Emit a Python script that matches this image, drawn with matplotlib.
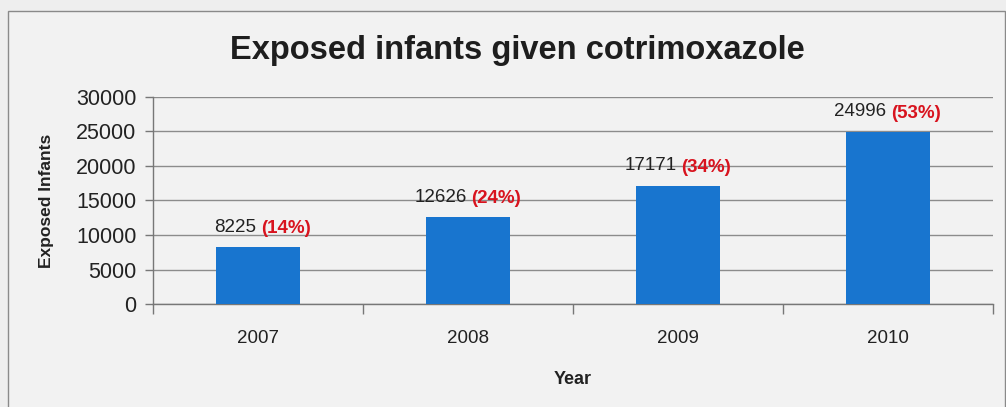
import matplotlib
matplotlib.use("Agg")
import matplotlib.pyplot as plt
from matplotlib.patches import Rectangle

plt.rcParams['font.family'] = ['Liberation Sans', 'DejaVu Sans']

# Data
years = ["2007", "2008", "2009", "2010"]
infants = [8225, 12626, 17171, 24996]
percent_labels = ["(14%)", "(24%)", "(34%)", "(53%)"]
y_ticks = [0, 5000, 10000, 15000, 20000, 25000, 30000]

W, H = 1006, 407
fig = plt.figure(figsize=(W / 100, H / 100), dpi=100, facecolor="#eeeeee")

# Outer chart frame, kept behind the plot
frame = Rectangle((8 / W, -0.05), (1005 - 8) / W, 1.05 - 11 / H,
                  transform=fig.transFigure, facecolor="#f2f2f2",
                  edgecolor="#8a8a8a", linewidth=1.0, zorder=-10)
fig.patches.append(frame)

ax = fig.add_axes([153 / W, 1 - 304 / H, (993 - 153) / W, (304 - 97) / H])
ax.set_facecolor("none")
ax.set_zorder(1)

x = list(range(len(years)))
ax.bar(x, infants, width=0.4, color="#1875cf", zorder=3)

ax.set_xlim(-0.5, len(years) - 0.5)
ax.set_ylim(0, 30000)
ax.set_yticks(y_ticks)
ax.set_yticklabels([str(v) for v in y_ticks], fontsize=15.5, color="#222222")
ax.yaxis.grid(True, color="#8c8c8c", linewidth=1.0, zorder=0)
ax.set_axisbelow(True)

# Category ticks sit on the boundaries between years
ax.set_xticks([i - 0.5 for i in range(len(years) + 1)])
ax.set_xticklabels([])
ax.set_xticks(x, minor=True)
ax.set_xticklabels(years, minor=True, fontsize=13.5, color="#222222")
ax.tick_params(axis="x", which="major", length=7, color="#777777", width=1)
ax.tick_params(axis="x", which="minor", length=0, pad=19)
ax.tick_params(axis="y", length=6, color="#777777", width=1, pad=6)

for side in ("top", "right"):
    ax.spines[side].set_visible(False)
for side in ("left", "bottom"):
    ax.spines[side].set_color("#777777")
    ax.spines[side].set_linewidth(1.0)

ax.set_ylabel("Exposed Infants", fontsize=12.5, fontweight="bold",
              color="#222222", labelpad=16)
ax.set_xlabel("Year", fontsize=13, fontweight="bold", color="#222222",
              labelpad=17)

# Value labels: count in black, share in bold red
for xi, val, pct in zip(x, infants, percent_labels):
    ax.annotate(str(val), xy=(xi, val), xytext=(-1, 11),
                textcoords="offset points", ha="right", va="baseline",
                fontsize=13.5, color="#222222", zorder=5)
    ax.annotate(pct, xy=(xi, val), xytext=(2.5, 10),
                textcoords="offset points", ha="left", va="baseline",
                fontsize=13.5, fontweight="bold", color="#d8131e", zorder=5)

fig.text(517 / W, 1 - 50 / H, "Exposed infants given cotrimoxazole",
         ha="center", va="center", fontsize=23.5, fontweight="bold",
         color="#1e1e1e")

fig.savefig("out.png", dpi=100, facecolor=fig.get_facecolor())
